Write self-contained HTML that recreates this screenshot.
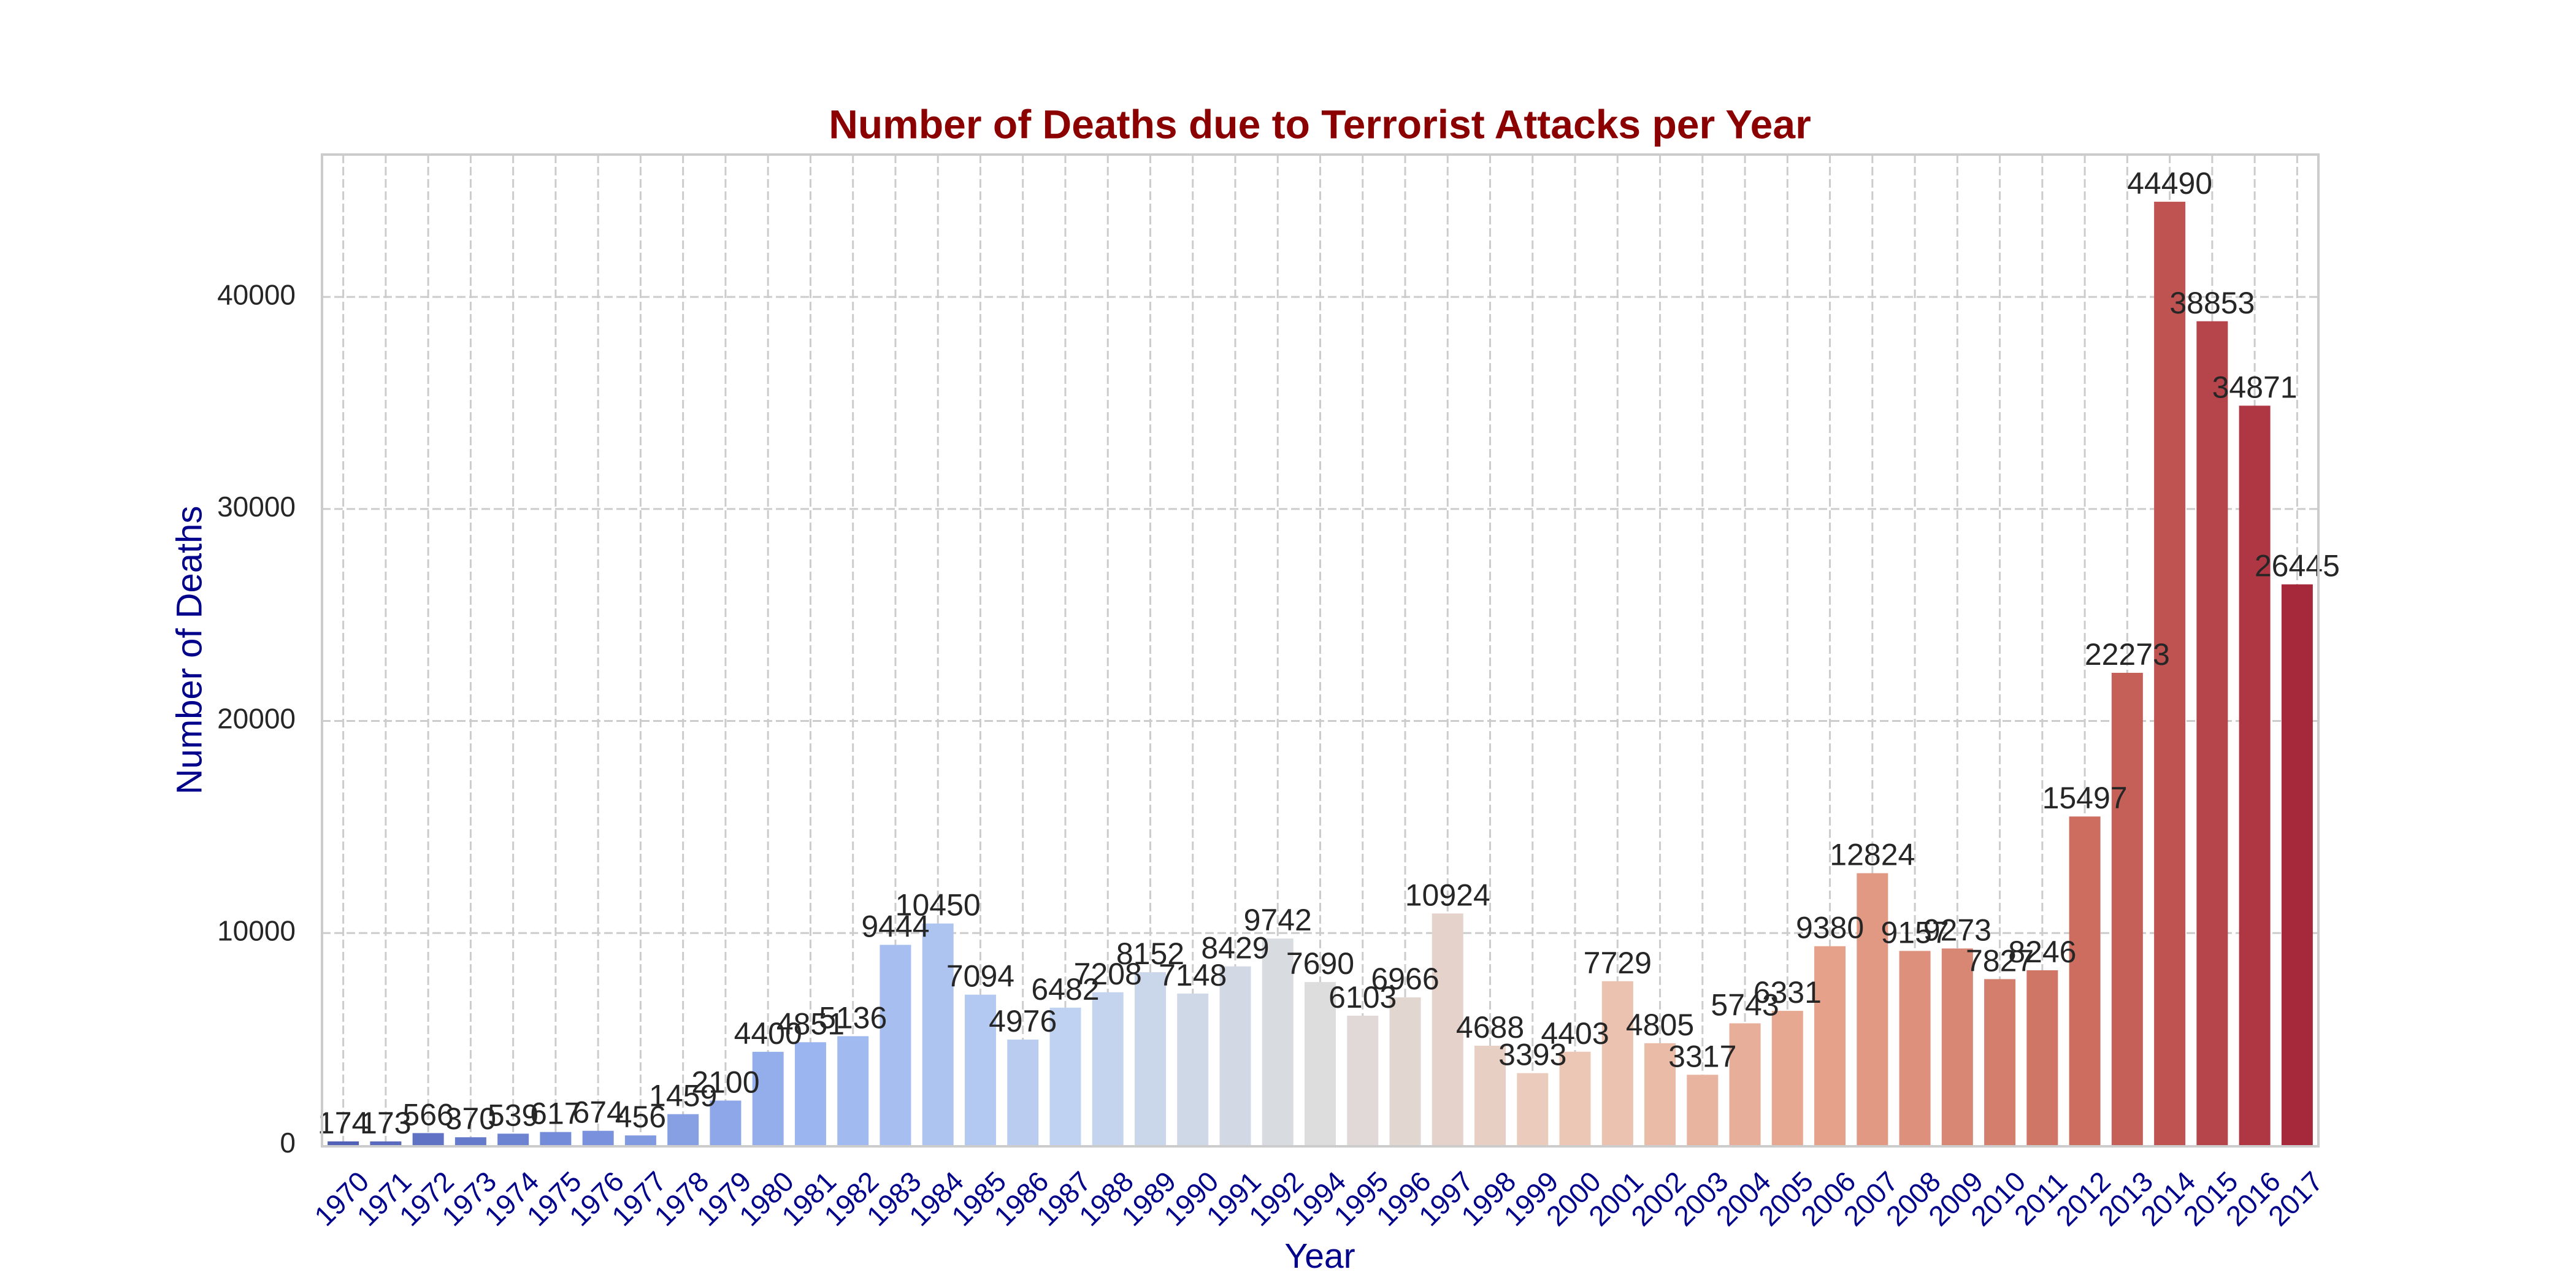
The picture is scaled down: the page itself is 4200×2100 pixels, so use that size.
<!DOCTYPE html>
<html><head><meta charset="utf-8"><style>
html,body{margin:0;padding:0;background:#fff;}
svg{display:block;font-family:"Liberation Sans",Arial,sans-serif;}
</style></head><body>
<svg id="chart" width="4200" height="2100" viewBox="0 0 4200 2100">
<rect width="4200" height="2100" fill="#fff"/>
<g id="grid"></g>
<g id="bars"></g>
<g id="vlabels"></g>
<rect x="525" y="252" width="3255" height="1617" fill="none" stroke="#cccccc" stroke-width="4"/>
<g id="yticks"></g>
<g id="xticks"></g>
<text x="2152" y="208" text-anchor="middle" dominant-baseline="middle" font-size="66" font-weight="bold" fill="#8b0000">Number of Deaths due to Terrorist Attacks per Year</text>
<text x="2152" y="2052" text-anchor="middle" dominant-baseline="middle" font-size="57" fill="#00008b">Year</text>
<text x="313" y="1060" text-anchor="middle" dominant-baseline="middle" font-size="58" fill="#00008b" transform="rotate(-90 313 1060)">Number of Deaths</text>
</svg>
<script>
const years = ["1970","1971","1972","1973","1974","1975","1976","1977","1978","1979","1980","1981","1982","1983","1984","1985","1986","1987","1988","1989","1990","1991","1992","1994","1995","1996","1997","1998","1999","2000","2001","2002","2003","2004","2005","2006","2007","2008","2009","2010","2011","2012","2013","2014","2015","2016","2017"];
const deaths = [174,173,566,370,539,617,674,456,1459,2100,4400,4851,5136,9444,10450,7094,4976,6482,7208,8152,7148,8429,9742,7690,6103,6966,10924,4688,3393,4403,7729,4805,3317,5743,6331,9380,12824,9157,9273,7827,8246,15497,22273,44490,38853,34871,26445];
const yTicks = [0,10000,20000,30000,40000];
const yMax = 46714;

const NS = "http://www.w3.org/2000/svg";
const L = 525, R = 3780, T = 252, B = 1867;
const step = (R - L) / years.length;
const xc = i => L + (i + 0.5) * step;
const yv = v => B - v / yMax * (B - T);
const anchors = [[59,76,192],[98,130,234],[141,176,254],[184,208,249],[221,221,221],[245,196,173],[244,154,123],[222,96,77],[180,4,38]];
function desat(rgb, s){
  let [r,g,b] = rgb.map(c=>c/255);
  const mx=Math.max(r,g,b), mn=Math.min(r,g,b), l=(mx+mn)/2;
  if (mx===mn) return rgb;
  const d=mx-mn;
  let sat = l>0.5 ? d/(2-mx-mn) : d/(mx+mn);
  let h;
  if (mx===r) h=((g-b)/d+(g<b?6:0)); else if (mx===g) h=(b-r)/d+2; else h=(r-g)/d+4;
  h/=6; sat*=s;
  const q = l<0.5 ? l*(1+sat) : l+sat-l*sat, p = 2*l-q;
  const f = t=>{ if(t<0)t+=1; if(t>1)t-=1; if(t<1/6)return p+(q-p)*6*t; if(t<1/2)return q; if(t<2/3)return p+(q-p)*(2/3-t)*6; return p; };
  return [f(h+1/3),f(h),f(h-1/3)].map(c=>Math.round(c*255));
}
function cool(t){
  const p = t * 8, i = Math.min(7, Math.floor(p)), f = p - i;
  const a = anchors[i], b = anchors[i+1];
  const c = desat(a.map((c,k)=>c + (b[k]-c)*f), 0.75);
  return "rgb(" + c.join(",") + ")";
}
function mk(tag, attrs, parent){
  const e = document.createElementNS(NS, tag);
  for (const k in attrs) e.setAttribute(k, attrs[k]);
  parent.appendChild(e);
  return e;
}
const grid = document.getElementById("grid");
const barsG = document.getElementById("bars");
const vl = document.getElementById("vlabels");
const yt = document.getElementById("yticks");
const xt = document.getElementById("xticks");

yTicks.forEach(v => {
  const y = yv(v);
  if (v > 0) {
    const g = mk("line", {x1:L, x2:R, y1:y, y2:y, stroke:"#cccccc", "stroke-width":3, "stroke-dasharray":"14 6"}, grid);
    
    
  }
  const t = mk("text", {x:482, y:y, "text-anchor":"end", "dominant-baseline":"middle", "font-size":46, fill:"#262626"}, yt);
  t.textContent = v;
  
  
});

years.forEach((yr, i) => {
  const cx = xc(i);
  const g = mk("line", {x1:cx, x2:cx, y1:T, y2:B, stroke:"#cccccc", "stroke-width":3, "stroke-dasharray":"14 6"}, grid);
  
  
  const bw = 51;
  const top = yv(deaths[i]);
  const r = mk("rect", {x:cx - bw/2, y:top, width:bw, height:B - top, fill:cool((i + 1) / (years.length + 1))}, barsG);
  
  
  const t = mk("text", {x:cx, y:top - 13, "text-anchor":"middle", "font-size":50, fill:"#262626"}, vl);
  t.textContent = deaths[i];
  
  
  const xl = mk("text", {x:cx, y:1957, "text-anchor":"middle", "dominant-baseline":"middle", "font-size":46, fill:"#00008b", transform:"rotate(-45 " + cx + " 1957)"}, xt);
  xl.textContent = yr;
  
  
});
</script>
</body></html>
